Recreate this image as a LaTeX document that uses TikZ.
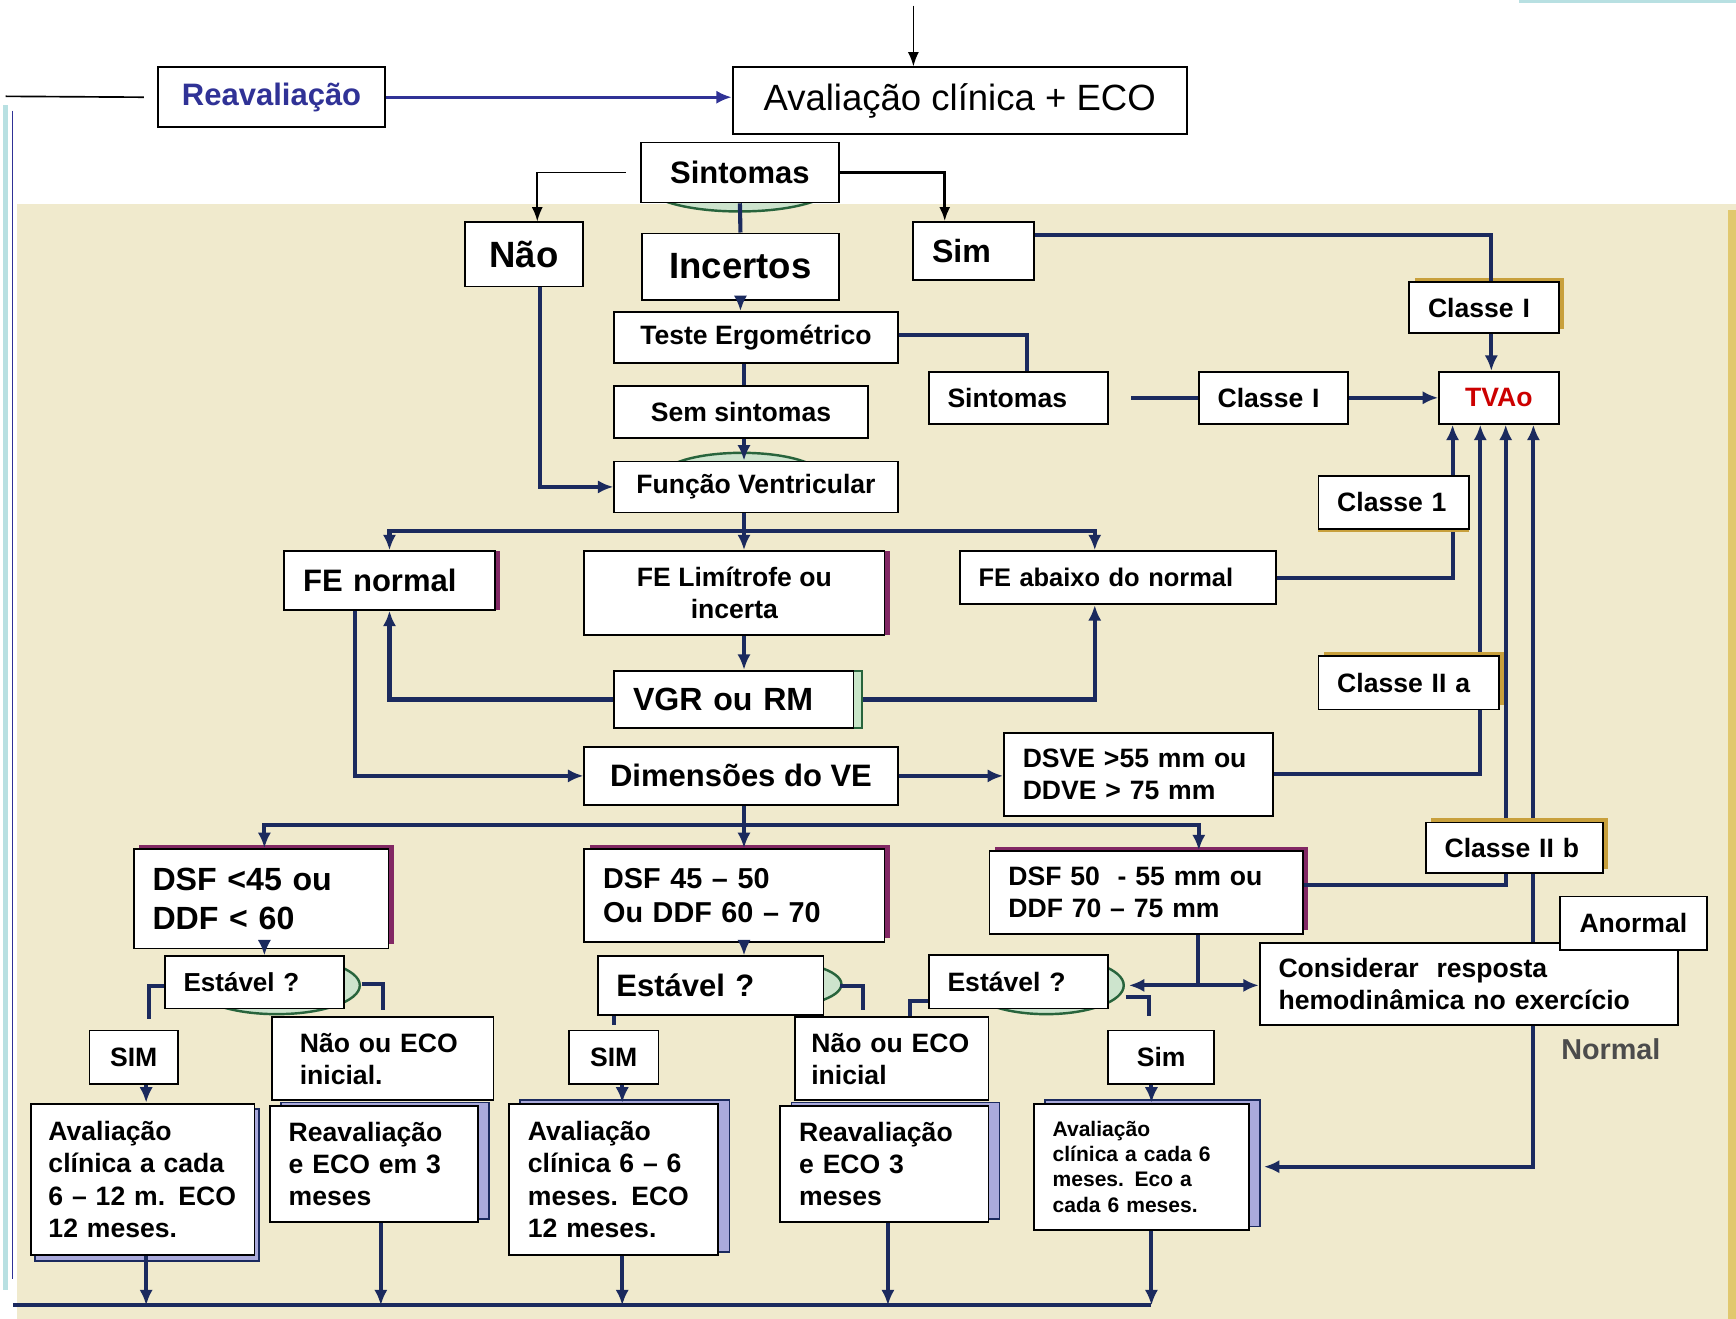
\documentclass[tikz,border=0pt]{standalone}
\usepackage{fontspec}
\setmainfont{Liberation Sans}
\usetikzlibrary{arrows.meta,shadows,calc}

\definecolor{navy}{RGB}{27,42,94}
\definecolor{beige}{RGB}{240,234,205}
\definecolor{reavblue}{RGB}{48,50,150}
\definecolor{tvred}{RGB}{204,0,0}
\definecolor{gold}{RGB}{200,160,60}
\definecolor{goldline}{RGB}{225,200,110}
\definecolor{plum}{RGB}{130,40,100}
\definecolor{lav}{RGB}{170,170,220}
\definecolor{mint}{RGB}{200,230,200}
\definecolor{paleteal}{RGB}{184,224,226}
\definecolor{blobline}{RGB}{40,100,60}
\definecolor{blobfill}{RGB}{205,228,205}

\tikzset{
  box/.style={draw, line width=1.6pt, fill=white, anchor=north west, inner sep=0pt},
  lbox/.style={box, align=left, inner xsep=17pt},
  sz/.style 2 args={font=\bfseries\fontsize{#1}{#2}\selectfont},
  link/.style={draw=navy, line width=3.7pt},
  arr/.style={link, -{Latex[length=14pt,width=12pt]}},
  blk/.style={draw=black, line width=1.5pt, -{Latex[length=13pt,width=10pt]}},
  goldsh/.style={general shadow={fill=gold, shadow xshift=5pt, shadow yshift=4pt}},
  plumsh/.style={general shadow={fill=plum, shadow xshift=5pt, shadow yshift=4pt}},
  plumside/.style={general shadow={fill=plum, shadow xshift=5pt}},
  lavsh/.style={general shadow={fill=lav, draw=navy, line width=1.5pt, shadow xshift=10pt, shadow yshift=3pt}},
  greensh/.style={general shadow={fill=mint, draw=blobline, line width=1.5pt, shadow xshift=8pt}},
  blob/.style={draw=blobline, line width=2.2pt, fill=blobfill}
}

\begin{document}
\begin{tikzpicture}[x=1pt,y=-1pt]
\useasboundingbox (0,0) rectangle (1568,1191);
% panel
\fill[beige] (15,184) rectangle (1568,1191);
\fill[goldline] (1561,190) rectangle (1568,1191);
\fill[paleteal] (1372,0) rectangle (1568,3);

% decision shapes behind the boxes
\draw[blob] (668,168) ellipse [x radius=84pt, y radius=23pt];
\draw[blob] (670,430) ellipse [x radius=72pt, y radius=21pt];
\draw[blob] (250,890) ellipse [x radius=75pt, y radius=26pt];
\draw[blob] (690,889) ellipse [x radius=70pt, y radius=22pt];
\draw[blob] (945,890) ellipse [x radius=70pt, y radius=26pt];

\node[box, font=\fontsize{33}{40}\selectfont, minimum width=410pt, minimum height=60pt] (aval) at (661,60) {Avaliação clínica + ECO};
\node[box, sz={28}{34}, text=reavblue, minimum width=205pt, minimum height=54pt] (reav) at (142,60) {Reavaliação};
\node[box, sz={28}{34}, minimum width=179pt, minimum height=54pt] (sint) at (578,128) {Sintomas};
\node[box, sz={33}{40}, minimum width=107pt, minimum height=58pt] (nao) at (419,200) {Não};
\node[box, sz={33}{40}, minimum width=178pt, minimum height=60pt] (inc) at (579,210) {Incertos};
\node[lbox, sz={29}{35}, text width=75pt, minimum height=52pt] (sim) at (824,200) {Sim};
\node[lbox, sz={24}{29}, goldsh, text width=101pt, minimum height=46pt] (clA) at (1272,254) {Classe I};
\node[box, sz={24}{29}, text=tvred, minimum width=108pt, minimum height=47pt] (tvao) at (1299,335) {TVAo};
\node[box, sz={24}{29}, minimum width=256pt, minimum height=46pt] (teste) at (554,281) {Teste Ergométrico};
\node[lbox, sz={24}{29}, text width=128pt, minimum height=47pt] (sint2) at (838,335) {Sintomas};
\node[lbox, sz={24}{29}, text width=101pt, minimum height=47pt] (clB) at (1082,335) {Classe I};
\node[box, sz={24}{29}, minimum width=229pt, minimum height=47pt] (sems) at (554,348) {Sem sintomas};
\node[box, sz={24}{29}, minimum width=256pt, minimum height=46pt] (fv) at (554,416) {Função Ventricular};
\node[lbox, sz={28}{34}, plumside, text width=156pt, minimum height=53pt] (fen) at (256,497) {FE normal};
\node[box, sz={24}{29}, plumside, align=center, minimum width=271pt, minimum height=76pt] (fel) at (527,497) {FE Limítrofe ou\\incerta};
\node[lbox, sz={23}{28}, text width=252pt, minimum height=48pt] (fea) at (866,497) {FE abaixo do normal};
\node[lbox, sz={29}{35}, greensh, text width=182pt, minimum height=52pt] (vgr) at (554,605) {VGR ou RM};
\node[box, sz={28}{34}, minimum width=283pt, minimum height=52pt] (dim) at (527,674) {Dimensões do VE};
\node[lbox, sz={24}{29}, text width=209pt, minimum height=75pt] (dsve) at (906,661) {DSVE >55 mm ou\\DDVE > 75 mm};
\node[lbox, sz={29}{35}, plumsh, text width=196pt, minimum height=90pt] (dsfA) at (120,766) {DSF <45 ou\\DDF < 60};
\node[lbox, sz={26}{31}, plumsh, text width=237pt, minimum height=84pt] (dsfB) at (527,766) {DSF 45 – 50\\Ou DDF 60 – 70};
\node[lbox, sz={24}{29}, plumsh, text width=249pt, minimum height=75pt] (dsfC) at (893,768) {DSF 50\ \ - 55 mm ou\\DDF 70 – 75 mm};
\node[lbox, sz={24}{29}, text width=344pt, minimum height=74pt] (cons) at (1137,851) {Considerar\ \ resposta\\hemodinâmica no exercício};
\node[lbox, sz={23.5}{28}, text width=128pt, minimum height=47pt] (estA) at (148,863) {Estável ?};
\node[lbox, sz={28}{34}, text width=170pt, minimum height=53pt] (estB) at (539,863) {Estável ?};
\node[lbox, sz={24}{29}, text width=128pt, minimum height=48pt] (estC) at (838,862) {Estável ?};
\node[box, sz={24}{29}, minimum width=80pt, minimum height=48pt] (simA) at (80,930) {SIM};
\node[lbox, sz={24}{29}, inner xsep=25pt, text width=150pt, minimum height=75pt] (naoA) at (245,918) {Não ou ECO\\inicial.};
\node[box, sz={24}{29}, minimum width=81pt, minimum height=48pt] (simB) at (513,930) {SIM};
\node[lbox, sz={24}{29}, inner xsep=15pt, text width=145pt, minimum height=75pt] (naoB) at (717,918) {Não ou ECO\\inicial};
\node[box, sz={24}{29}, minimum width=96pt, minimum height=48pt] (simC) at (1000,930) {Sim};
\node[lbox, sz={24}{29}, general shadow={fill=lav, draw=navy, line width=1.5pt, shadow xshift=4pt, shadow yshift=-5pt}, inner xsep=16pt, text width=170pt, minimum height=137pt] (avA) at (27,996) {Avaliação\\clínica a cada\\6 – 12 m. ECO\\12 meses.};
\node[lbox, sz={24}{29}, lavsh, text width=154pt, minimum height=105pt] (reA) at (243,998) {Reavaliação\\e ECO em 3\\meses};
\node[lbox, sz={24}{29}, lavsh, text width=155pt, minimum height=137pt] (avB) at (459,996) {Avaliação\\clínica 6 – 6\\meses. ECO\\12 meses.};
\node[lbox, sz={24}{29}, lavsh, text width=154pt, minimum height=105pt] (reB) at (704,998) {Reavaliação\\e ECO 3\\meses};
\node[lbox, sz={19}{23}, lavsh, text width=160pt, minimum height=114pt] (avC) at (933,996) {Avaliação\\clínica a cada 6\\meses. Eco a\\cada 6 meses.};
\node[sz={26}{31}, text=gray!60!black] (normal) at (1455,948) {Normal};

% junctions and columns
\coordinate (spine) at (672,0);
\coordinate (tvA) at (1312,0);
\coordinate (tvB) at (1337,0);
\coordinate (tvC) at (1360,0);
\coordinate (tvD) at (1385,0);
\coordinate (tvE) at (1347,0);
\coordinate (forkA) at (672,480);
\coordinate (forkB) at (672,745);
\coordinate (forkC) at (1082,890);
\coordinate (colA) at (132,0);
\coordinate (colB) at (344,0);
\coordinate (colC) at (562,0);
\coordinate (colD) at (802,0);
\coordinate (colE) at (1040,0);
\coordinate (botL) at (12,1179);
\coordinate (botR) at (1040,1179);
\coordinate (topin) at (825,5);
\coordinate (loopT) at (5,87);
\coordinate (barT) at (5,95);
\coordinate (barB) at (5,1165);
\coordinate (thinT) at (11,100);
\coordinate (thinB) at (11,1155);

% top part
\draw[blk] (topin) -- (topin |- aval.north);
\draw[draw=reavblue, line width=2.8pt, -{Latex[length=14pt,width=12pt]}] (reav.east) -- (reav.east -| aval.west);
\draw[line width=1.5pt] (loopT) -- ($(reav.west)+(-12,0)$);
\draw[paleteal, line width=5pt] (barT) -- (barB);
\draw[reavblue, line width=1.2pt] (thinT) -- (thinB);
\draw[link] (botL) -- (botR);
\draw[blk] ($(sint.west)+(-13,0)$) -| ($(nao.north)+(12,0)$);
\draw[blk, line width=2.8pt] (sint.east) -| ($(sim.north)+(-26,0)$);

% symptoms branch
\draw[link] (sint.south) -- (inc.north);
\draw[arr] (inc.south) -- (inc.south |- teste.north);
\draw[link] (teste.south -| spine) -- (sems.north -| spine);
\draw[arr] (sems.south -| spine) -- (fv.north -| spine);
\draw[link] ($(teste.east)+(0,-2)$) -| ($(sint2.north)+(8,0)$);
\draw[link] ($(sint2.east)+(20,0)$) -- (clB.west);
\draw[arr] (clB.east) -- (tvao.west);
\draw[link] (sim.east |- 0,212) -| (clA.north -| tvE);
\draw[arr] (clA.south -| tvE) -- (tvao.north -| tvE);
\draw[arr] ($(nao.south)+(14.5,0)$) |- (fv.west);

% ventricular function
\draw[link] (fv.south -| forkA) -- (forkA);
\draw[arr] (forkA) -| (fen.north);
\draw[arr] (forkA) -- (fel.north -| forkA);
\draw[arr] (forkA) -| ($(fea.north)+(-21,0)$);
\draw[arr] (fea.east) -| (tvao.south -| tvA);
\draw[arr] (fel.south -| spine) -- (vgr.north -| spine);
\draw[arr] (vgr.west) -| (fen.south);
\draw[arr] ($(vgr.east)+(8,0)$) -| ($(fea.south)+(-21,0)$);
\draw[arr] ($(fen.south)+(-31,0)$) |- (dim.west);
\draw[arr] (dim.east) -- (dim.east -| dsve.west);
\draw[arr] (dsve.east) -| (tvao.south -| tvB);

% dimensions
\draw[link] (dim.south -| forkB) -- (forkB);
\draw[arr] (forkB) -| ($(dsfA.north)+(3,0)$);
\draw[arr] (forkB) -- (dsfB.north -| forkB);
\draw[arr] (forkB) -| ($(dsfC.north)+(47.5,0)$);
\draw[arr] ($(dsfC.east)+(0,-7)$) -| (tvao.south -| tvC);
\draw[arr] (cons.north -| tvD) -- (tvao.south -| tvD);
\draw[arr] (cons.south -| tvD) |- ($(avC.east)+(13,0)$);
\draw[link] (dsfC.south -| forkC) -- (forkC);
\draw[arr] (forkC) -- (forkC -| cons.west);
\draw[arr] (forkC) -- ($(estC.east |- forkC)+(18,0)$);
\draw[arr] ($(dsfA.south)+(3,0)$) -- ($(dsfA.south |- estA.north)+(3,0)$);
\draw[arr] (dsfB.south -| spine) -- (estB.north -| spine);

% stable ?
\draw[link] ($(estA.west)+(0,3.5)$) -| ($(simA.north)+(14,-10)$);
\draw[link] ($(estA.east)+(15,1.5)$) -| ($(naoA.north)+(0,-6)$);
\draw[link] (estB.south -| simB.north) -- ($(simB.north)+(0,-4)$);
\draw[link] ($(estB.east)+(14,0)$) -| ($(naoB.north)+(-26,-6)$);
\draw[link] ($(estC.west)+(0,17)$) -| ($(naoB.north)+(16.5,0)$);
\draw[link] ($(estC.east)+(15,14)$) -| ($(simC.north)+(-11,-12)$);
\draw[arr] (simA.south -| colA) -- (avA.north -| colA);
\draw[arr] (simB.south -| colC) -- (avB.north -| colC);
\draw[arr] (simC.south -| colE) -- (avC.north -| colE);

% back to the bottom line
\draw[arr] (avA.south -| colA) -- (botL -| colA);
\draw[arr] (reA.south -| colB) -- (botL -| colB);
\draw[arr] (avB.south -| colC) -- (botL -| colC);
\draw[arr] (reB.south -| colD) -- (botL -| colD);
\draw[arr] (avC.south -| colE) -- (botL -| colE);

% class labels sit on the lines
\node[lbox, sz={24}{29}, general shadow={fill=gold, shadow yshift=-3pt}, text width=102pt, minimum height=48pt] (clOne) at (1190,429) {Classe 1};
\node[lbox, sz={24}{29}, goldsh, text width=129pt, minimum height=48pt] (clIIa) at (1190,592) {Classe II a};
\node[lbox, sz={24}{29}, goldsh, text width=126pt, minimum height=46pt] (clIIb) at (1287,742) {Classe II b};
\node[box, sz={24}{29}, minimum width=133pt, minimum height=48pt] (anorm) at (1408,809) {Anormal};
\end{tikzpicture}
\end{document}
